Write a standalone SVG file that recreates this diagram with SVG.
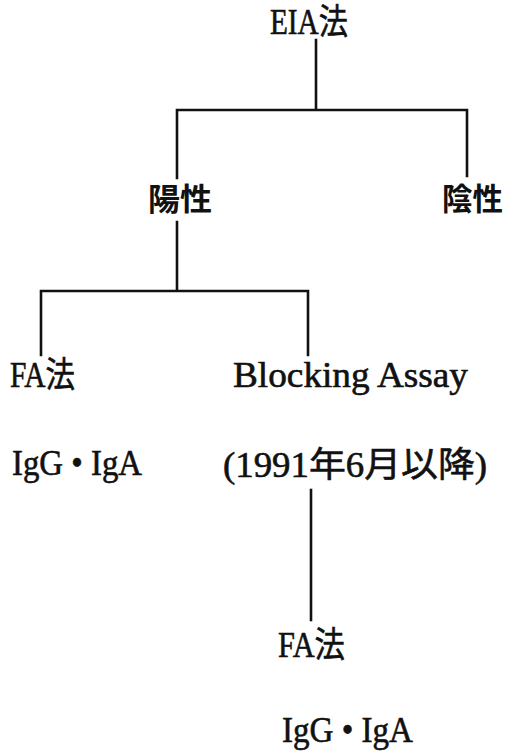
<svg xmlns="http://www.w3.org/2000/svg" width="506" height="753" viewBox="0 0 506 753">
<style>
.t{font-family:"Liberation Serif","Noto Sans CJK JP",serif;font-size:35px;fill:#111;stroke:#111;stroke-width:0.6;}
.j{font-family:"Noto Sans CJK JP",sans-serif;font-size:31px;font-weight:bold;fill:#111;}
.c{stroke:#111;stroke-width:2.6;fill:none;stroke-linecap:square;}
</style>
<rect width="506" height="753" fill="#fff"/>
<g id="connectors">
<path class="c" d="M316 40 V110 M177 110 H467 M177 110 V178 M467 110 V176"/>
<path class="c" d="M177 222 V291 M41 291 H308 M41 291 V355 M308 291 V355"/>
<path class="c" d="M311 490 V620"/>
</g>
<g id="eia"><text class="t" x="270" y="34" textLength="78" lengthAdjust="spacingAndGlyphs">EIA法</text></g>
<g id="positive"><text class="j" x="148" y="210" textLength="64" lengthAdjust="spacingAndGlyphs">陽性</text></g>
<g id="negative"><text class="j" x="442" y="210" textLength="61" lengthAdjust="spacingAndGlyphs">陰性</text></g>
<g id="fa1"><text class="t" x="10" y="387" textLength="65" lengthAdjust="spacingAndGlyphs">FA法</text>
<text class="t" x="12" y="475" textLength="130" lengthAdjust="spacingAndGlyphs">IgG • IgA</text></g>
<g id="blocking"><text class="t" x="233" y="387" textLength="235" lengthAdjust="spacingAndGlyphs">Blocking Assay</text>
<text class="t" x="223" y="477" textLength="264" lengthAdjust="spacingAndGlyphs">(1991年6月以降)</text></g>
<g id="fa2"><text class="t" x="278" y="657" textLength="67" lengthAdjust="spacingAndGlyphs">FA法</text>
<text class="t" x="282" y="742" textLength="131" lengthAdjust="spacingAndGlyphs">IgG • IgA</text></g>
</svg>
